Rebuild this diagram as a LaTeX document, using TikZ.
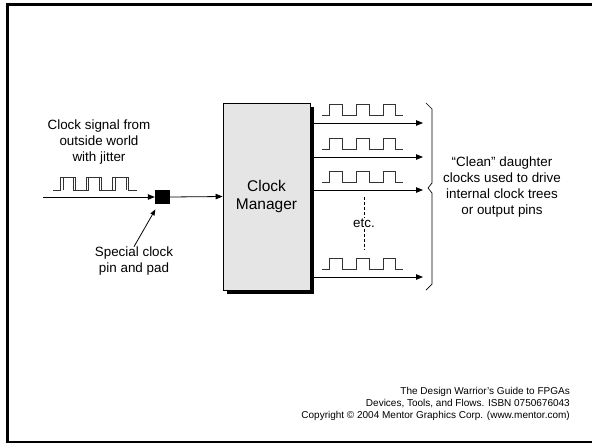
\documentclass[tikz,border=0pt]{standalone}
\usepackage{fontspec}
\setmainfont{Liberation Sans}
\usetikzlibrary{arrows.meta,shadows}
\begin{document}
\begin{tikzpicture}[x=1pt,y=-1pt,
  arr/.style={line width=0.8pt,-{Triangle[length=7pt,width=5.5pt]}},
  lbl/.style={align=center,inner sep=0pt,font=\fontsize{13.4}{15.8}\selectfont},
  wave/.style={line width=0.9pt,black!80},
  clk/.pic={\draw[wave] (0,0) -- (7,0) -- (7,-11) -- (20,-11) -- (20,0) -- (34,0) -- (34,-11) -- (47,-11) -- (47,0) -- (61,0) -- (61,-11) -- (73,-11) -- (73,0) -- (81,0);}
]
\useasboundingbox (0,0) rectangle (592,445);
\draw[line width=2.5pt] (592,4.5) -- (7.5,4.5) -- (7.5,442) -- (592,442);

% clock manager
\node[draw,line width=0.8pt,fill=black!10,minimum width=87pt,minimum height=187pt,
  align=center,font=\fontsize{15.5}{18}\selectfont,
  general shadow={fill=black,shadow xshift=4pt,shadow yshift=-4pt}] (cm) at (266.5,196.5) {Clock\\Manager};

% pad
\node[fill=black,minimum width=15pt,minimum height=14pt,inner sep=0pt] (pad) at (162.5,197) {};
\coordinate (in) at (43,197);
\draw[arr] (in) -- (pad.west);
\draw[arr] (pad.east) -- (cm.west);

% input jittery waveform
\draw[wave] (53,190) -- (60,190) -- (60,177) -- (75,177) -- (75,190) -- (86,190) -- (86,177) -- (101,177) -- (101,190) -- (112,190) -- (112,177) -- (128,177) -- (128,190) -- (137,190);
\draw[wave] (63,190) -- (63,177) -- (73,177) -- (73,190) -- (88,190) -- (88,177) -- (99,177) -- (99,190) -- (115,190) -- (115,177) -- (126,177) -- (126,190);

\node[lbl] (src) at (99,142) {Clock signal from\\outside world\\with jitter};
\node[lbl] (spl) at (134,261) {Special clock\\pin and pad};
\draw[line width=0.8pt,-{Triangle[length=6pt,width=4.5pt]},shorten >=6pt] (spl.north) -- (pad);

% outputs
\foreach \i/\yy in {1/123,2/157,3/190,4/277}{
  \coordinate (o\i) at (423,\yy);
  \draw[arr] (cm.east |- o\i) -- (o\i);
  \pic at (322,\yy-8) {clk};
}

% etc
\node[inner sep=1pt,font=\fontsize{13.4}{15.8}\selectfont] (etc) at (364,223) {etc.};
\coordinate (d1) at (364,197);
\coordinate (d2) at (364,250);
\draw[line width=0.7pt,dash pattern=on 3pt off 2pt] (d1) -- (etc.north);
\draw[line width=0.7pt,dash pattern=on 3pt off 2pt] (etc.south) -- (d2);

% brace
\draw[line width=0.7pt] (426,103) -- (432,109) -- (432,183) -- (428,188) -- (432,193) -- (432,284) -- (426,290);

\node[lbl] (clean) at (502,187) {“Clean” daughter\\clocks used to drive\\internal clock trees\\or output pins};

% footer
\node[align=right,anchor=east,inner sep=0pt,font=\fontsize{10}{11.7}\selectfont] (foot) at (570,404)
  {The Design Warrior’s Guide to FPGAs\\Devices, Tools, and Flows. ISBN 0750676043\\Copyright © 2004 Mentor Graphics Corp. (www.mentor.com)};
\end{tikzpicture}
\end{document}
